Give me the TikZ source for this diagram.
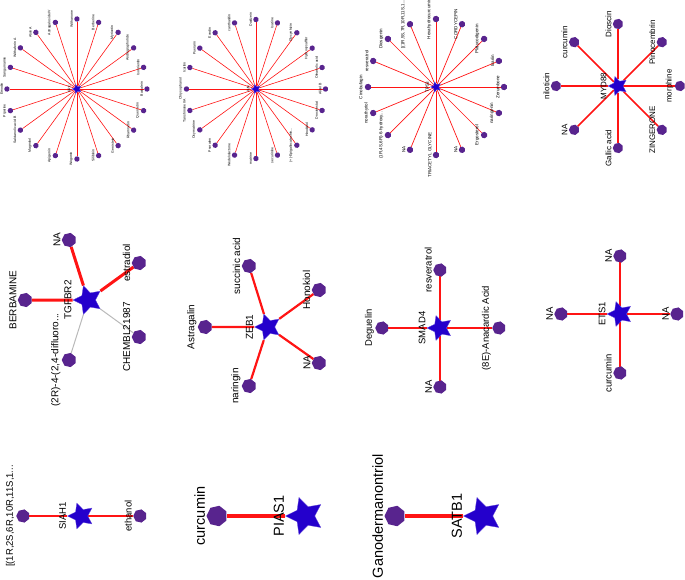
\documentclass[tikz,border=0pt]{standalone}
\usepackage{fontspec}
\setmainfont{Liberation Sans}
\usetikzlibrary{shapes.geometric, calc, backgrounds}
\definecolor{leafc}{RGB}{88,36,142}
\definecolor{hubc}{RGB}{36,0,204}
\definecolor{edgec}{RGB}{255,20,20}
\newcommand{\fsz}[1]{\fontsize{#1}{#1}\selectfont}
\newcommand{\elp}{...}

\begin{document}
\begin{tikzpicture}[x=1pt, y=-1pt,
  leaf/.style={regular polygon, regular polygon sides=7, shape border rotate=90, fill=leafc, inner sep=0pt},
  hub/.style={star, star points=5, star point ratio=2, shape border rotate=90,
    fill=hubc, draw=hubc!70!white, line width=0.3pt, inner sep=0pt},
  lab/.style={rotate=90, anchor=south, inner sep=1pt},
  link/.style={draw=edgec},
  weak/.style={draw=gray!55}]
  \useasboundingbox (0,0) rectangle (685,579);

  \node[hub, minimum size=10pt, label={[lab, font=\fsz{3.5}]180:SRC}] (src) at (77,89) {};
  \foreach \lbl [count=\i from 0] in {Withanone, Berberine, Myricetin, Andrographolide, Isoorientin,
      Baicalein, Quercetin, Rhamnetin, Genistein, Silibinin, Wogonin, Apigenin, Magnolol,
      Salvianolic acid B, Piperine, Emodin, Sanguinarine, Withaferin A, Aloin A, Astragaloside IV}{
    \node[leaf, minimum size=5.5pt, label={[lab, font=\fsz{3.5}]180:\lbl}] (src\i) at ($(src)+(-90+18*\i:70)$) {};
    \begin{scope}[on background layer]
      \draw[link, line width=0.6pt] (src) -- (src\i);
    \end{scope}
  }

  \node[hub, minimum size=10pt, label={[lab, font=\fsz{3.5}]180:JUN}] (jun) at (256,89) {};
  \foreach \lbl [count=\i from 0] in {Daidzein, Isatine, Glycyrrhizin, Hydroxysafflor, Oleanolic acid,
      Alisol B, Droxinostat, Hinokitiol, {(+)-Epigallocatechin\elp}, securinine, matrine, Wedelolactone,
      Psoralen, Oxymatrine, Tanshinone IIA, Chrysophanol, Icaritin, Puerarin, Evodin, cantharidin}{
    \node[leaf, minimum size=5.5pt, label={[lab, font=\fsz{3.5}]180:\lbl}] (jun\i) at ($(jun)+(-90+18*\i:69.5)$) {};
    \begin{scope}[on background layer]
      \draw[link, line width=0.6pt] (jun) -- (jun\i);
    \end{scope}
  }

  \node[hub, minimum size=11pt, label={[lab, font=\fsz{4.5}]180:TP53}] (tp53) at (436,87) {};
  \foreach \lbl [count=\i from 0] in {Hexahydrocurcumin, CORDYCEPIN, Platycodigenin, Icariin, Zerumbone,
      naringenin, Ergosterol, NA, TRIACETYL GLYCINE, NA, {(1R,4S,6R)-6-hydroxy\elp}, norathyriol,
      Cinobufagin, resveratrol, Diosgenin, {[(1R,5S,7R,10R,11S,1\elp}}{
    \node[leaf, minimum size=6.5pt, label={[lab, font=\fsz{4.5}]180:\lbl}] (tp\i) at ($(tp53)+(-90+22.5*\i:68)$) {};
    \begin{scope}[on background layer]
      \draw[link, line width=0.7pt] (tp53) -- (tp\i);
    \end{scope}
  }

  \node[hub, minimum size=20pt, label={[lab, font=\fsz{8}]180:MYD88}] (myd88) at (618,86) {};
  \foreach \lbl [count=\i from 0] in {Dioscin, Pinocembrin, morphine, ZINGERONE, Gallic acid, NA, niloticin, curcumin}{
    \node[leaf, minimum size=10.5pt, label={[lab, font=\fsz{8}]180:\lbl}] (my\i) at ($(myd88)+(-90+45*\i:62)$) {};
    \begin{scope}[on background layer]
      \draw[link, line width=1.5pt] (myd88) -- (my\i);
    \end{scope}
  }

  \node[hub, minimum size=30pt, label={[lab, font=\fsz{10}]180:TGFBR2}] (tgfbr2) at (88,300) {};
  \node[leaf, minimum size=14.5pt, label={[lab, font=\fsz{10}]180:BERBAMINE}] (berb) at (25,300) {};
  \node[leaf, minimum size=14.5pt, label={[lab, font=\fsz{10}]180:NA}] (na1) at (69,240) {};
  \node[leaf, minimum size=14.5pt, label={[lab, font=\fsz{10}]180:estradiol}] (estr) at (139,263) {};
  \node[leaf, minimum size=14.5pt, label={[lab, font=\fsz{10}]180:CHEMBL21987}] (chembl) at (139,337) {};
  \node[leaf, minimum size=14.5pt, label={[lab, font=\fsz{10}]180:(2R)-4-(2,4-difluoro\elp}] (dflu) at (69,360) {};
  \begin{scope}[on background layer]
    \draw[link, line width=3pt] (tgfbr2) -- (berb) (tgfbr2) -- (na1) (tgfbr2) -- (estr);
    \draw[weak, line width=1pt] (tgfbr2) -- (chembl) (tgfbr2) -- (dflu);
  \end{scope}

  \node[hub, minimum size=27pt, label={[lab, font=\fsz{10}]180:ZEB1}] (zeb1) at (268,327) {};
  \node[leaf, minimum size=14.5pt, label={[lab, font=\fsz{10}]180:Astragalin}] (astr) at (205,327) {};
  \node[leaf, minimum size=14.5pt, label={[lab, font=\fsz{10}]180:succinic acid}] (succ) at (249,266) {};
  \node[leaf, minimum size=14.5pt, label={[lab, font=\fsz{10}]180:Honokiol}] (hono) at (319,290) {};
  \node[leaf, minimum size=14.5pt, label={[lab, font=\fsz{10}]180:NA}] (na2) at (319,363) {};
  \node[leaf, minimum size=14.5pt, label={[lab, font=\fsz{10}]180:naringin}] (nari) at (249,386) {};
  \begin{scope}[on background layer]
    \draw[link, line width=2.2pt] (zeb1) -- (astr) (zeb1) -- (succ) (zeb1) -- (hono)
      (zeb1) -- (na2) (zeb1) -- (nari);
  \end{scope}

  \node[hub, minimum size=26pt, label={[lab, font=\fsz{9.5}]180:SMAD4}] (smad4) at (440,328) {};
  \node[leaf, minimum size=13.5pt, label={[lab, font=\fsz{9.5}]180:Deguelin}] (degu) at (382,328) {};
  \node[leaf, minimum size=13.5pt, label={[lab, font=\fsz{9.5}]180:resveratrol}] (resv) at (440,270) {};
  \node[leaf, minimum size=13.5pt, label={[lab, font=\fsz{9.5}]180:(8E)-Anacardic Acid}] (anac) at (499,328) {};
  \node[leaf, minimum size=13.5pt, label={[lab, font=\fsz{9.5}]180:NA}] (na3) at (440,387) {};
  \begin{scope}[on background layer]
    \draw[link, line width=2.5pt] (smad4) -- (degu) (smad4) -- (resv) (smad4) -- (anac) (smad4) -- (na3);
  \end{scope}

  \node[hub, minimum size=26pt, label={[lab, font=\fsz{9.5}]180:ETS1}] (ets1) at (620,314) {};
  \node[leaf, minimum size=13.5pt, label={[lab, font=\fsz{9.5}]180:NA}] (na4) at (561,314) {};
  \node[leaf, minimum size=13.5pt, label={[lab, font=\fsz{9.5}]180:NA}] (na5) at (620,256) {};
  \node[leaf, minimum size=13.5pt, label={[lab, font=\fsz{9.5}]180:NA}] (na6) at (677,314) {};
  \node[leaf, minimum size=13.5pt, label={[lab, font=\fsz{9.5}]180:curcumin}] (curc1) at (620,373) {};
  \begin{scope}[on background layer]
    \draw[link, line width=2pt] (ets1) -- (na4) (ets1) -- (na5) (ets1) -- (na6) (ets1) -- (curc1);
  \end{scope}

  \node[hub, minimum size=27pt, label={[lab, font=\fsz{9.5}]180:SIAH1}] (siah1) at (81,516) {};
  \node[leaf, minimum size=13.5pt, label={[lab, font=\fsz{9.5}]180:{[(1R,2S,6R,10R,11S,1\elp}}] (ring) at (23,516) {};
  \node[leaf, minimum size=13.5pt, label={[lab, font=\fsz{9.5}]180:ethanol}] (etoh) at (140,516) {};
  \begin{scope}[on background layer]
    \draw[link, line width=2pt] (siah1) -- (ring) (siah1) -- (etoh);
  \end{scope}

  \node[hub, minimum size=39pt, label={[lab, font=\fsz{14.5}]180:PIAS1}] (pias1) at (305,516) {};
  \node[leaf, minimum size=21pt, label={[lab, font=\fsz{14.5}]180:curcumin}] (curc2) at (217,516) {};
  \node[hub, minimum size=39pt, label={[lab, font=\fsz{14.5}]180:SATB1}] (satb1) at (483,516) {};
  \node[leaf, minimum size=21pt, label={[lab, font=\fsz{14.5}]180:Ganodermanontriol}] (gano) at (395,516) {};
  \begin{scope}[on background layer]
    \draw[link, line width=3.5pt] (pias1) -- (curc2) (satb1) -- (gano);
  \end{scope}
\end{tikzpicture}
\end{document}
